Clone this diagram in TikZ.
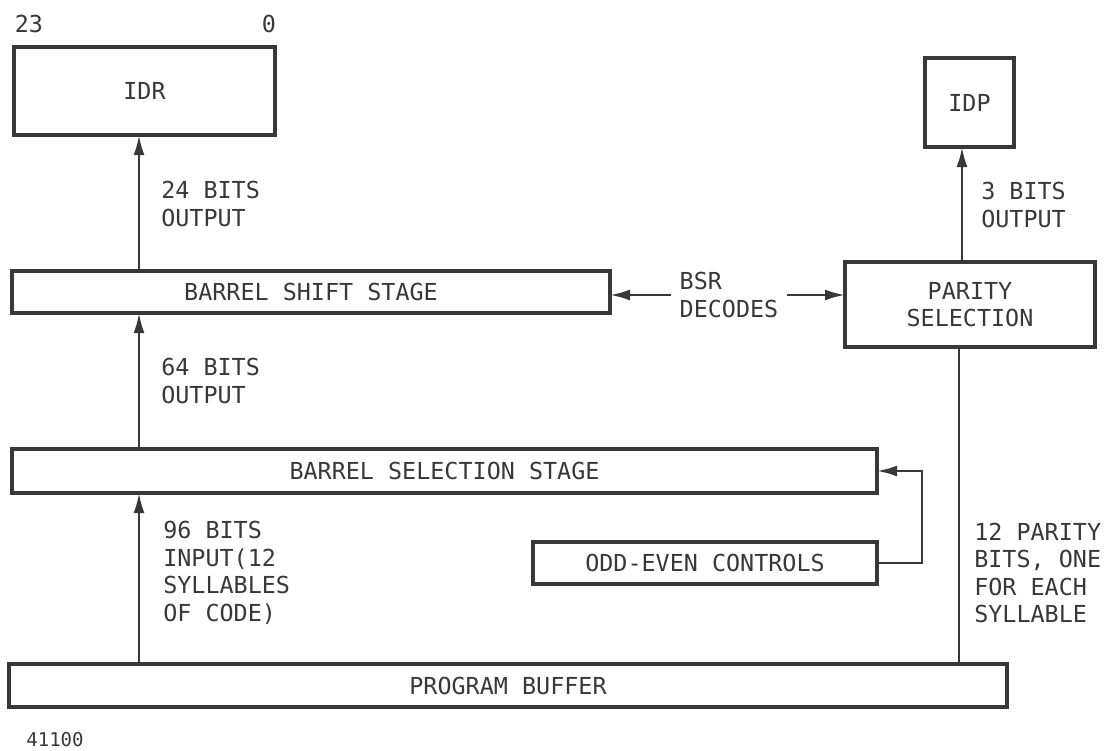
\documentclass[tikz,border=0pt]{standalone}
\usepackage{fontspec}
\usepackage{tikz}
\usetikzlibrary{arrows.meta}
\newfontfamily\stencil{DejaVu Sans Mono}
\definecolor{ink}{gray}{0.22}

\begin{document}
\begin{tikzpicture}[x=1pt, y=-1pt, line width=2.6pt, draw=ink, text=ink,
        every node/.style={font=\stencil\fontsize{23.4}{27.5}\selectfont, text=ink},
        blk/.style={draw=ink, line width=3.2pt, align=center, inner sep=0pt, outer sep=0pt},
        tag/.style={anchor=west, align=left, inner sep=0pt},
        >={Latex[length=20pt, width=11pt]}]
        \useasboundingbox (0,0) rectangle (1114,750);

        % registers and stages
        \node[blk, minimum width=261pt, minimum height=88pt] (idr) at (144.5,91) {IDR};
        \node[blk, minimum width=598pt, minimum height=42pt] (shift) at (311,292) {BARREL SHIFT STAGE};
        \node[blk, minimum width=865pt, minimum height=44pt] (sel) at (444.5,471) {BARREL SELECTION STAGE};
        \node[blk, minimum width=344pt, minimum height=42pt] (odd) at (705,563) {ODD-EVEN CONTROLS};
        \node[blk, minimum width=998pt, minimum height=43pt] (buf) at (508,685.5) {PROGRAM BUFFER};
        \node[blk, minimum width=250pt, minimum height=85pt] (par) at (970,304.5) {PARITY\\SELECTION};
        \node[blk, minimum width=89pt, minimum height=89pt] (idp) at (969.5,102.5) {IDP};

        % bit numbers of IDR
        \node (msb) at (29,24) {23};
        \node (lsb) at (269,24) {0};

        % data path up the left side
        \coordinate (col) at (139,0);
        \draw[ink, ->] (shift.north -| col) -- (idr.south -| col);
        \draw[ink, ->] (sel.north -| col) -- (shift.south -| col);
        \draw[ink, ->] (buf.north -| col) -- (sel.south -| col);
        \node[tag] (out24) at (160,204) {24 BITS\\OUTPUT};
        \node[tag] (out64) at (160,381) {64 BITS\\OUTPUT};
        \node[tag] (in96) at (162,573) {96 BITS\\INPUT(12\\SYLLABLES\\OF CODE)};

        % parity path on the right
        \coordinate (pcol) at (959,0);
        \coordinate (ocol) at (962,0);
        \draw[ink] (buf.north -| pcol) -- (par.south -| pcol);
        \draw[ink, ->] (par.north -| ocol) -- (idp.south -| ocol);
        \node[tag] (out3) at (980,205) {3 BITS\\OUTPUT};
        \node[tag] (pbits) at (973,573) {12 PARITY\\BITS, ONE\\FOR EACH\\SYLLABLE};

        % shift register decodes
        \node[align=left, inner xsep=7pt, inner ysep=0pt] (bsr) at (729,295) {BSR\\DECODES};
        \draw[ink, ->] (bsr.west) -- (bsr.west -| shift.east);
        \draw[ink, ->] (bsr.east) -- (bsr.east -| par.west);

        % odd-even feedback
        \draw[ink, ->] (odd.east) -- ++(45,0) |- (sel.east);

        \node[font=\stencil\fontsize{19}{22}\selectfont] (fig) at (55,740) {41100};
    \end{tikzpicture}
\end{document}
